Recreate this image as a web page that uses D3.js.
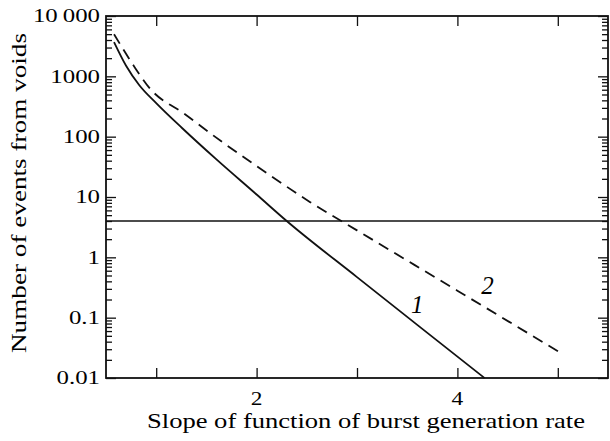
<!DOCTYPE html>
<html>
<head>
<meta charset="utf-8">
<script src="https://cdn.jsdelivr.net/npm/d3@7"></script>
<style>
  body { margin: 0; background: #fff; }
</style>
</head>
<body>
<div id="chart"></div>
<script>
// curve 1 (solid) and curve 2 (dashed)
const slopes1 = [0.58, 0.7, 0.83, 1.0, 1.26, 1.6, 2.0, 2.3, 3.0, 3.6, 4.27];
const events1 = [3700, 1500, 720, 360, 138, 42, 11, 4.0, 0.47, 0.076, 0.01];
const slopes2 = [0.58, 0.79, 0.93, 1.28, 1.66, 2.1, 2.53, 3.0, 4.0, 5.03];
const events2 = [5000, 1380, 650, 240, 81, 25, 8.3, 2.8, 0.28, 0.026];
const threshold = 4;

const xTicks = [1, 2, 3, 4, 5];
const xTickLabels = ["", "2", "", "4", ""];
const yTicks = [0.01, 0.1, 1, 10, 100, 1000, 10000];
const yTickLabels = ["0.01", "0.1", "1", "10", "100", "1000", "10\u2009000"];
const curveNames = ["1", "2"];

const font = "'Liberation Serif', 'Times New Roman', serif";
const width = 610;
const height = 441;
const margin = { left: 106, right: 2, top: 16, bottom: 63 };
const plotW = width - margin.left - margin.right;
const plotH = height - margin.top - margin.bottom;

let svg = d3
  .select("#chart")
  .append("svg")
  .attr("width", width)
  .attr("height", height);

let plot = svg
  .append("g")
  .attr("transform", `translate(${margin.left}, ${margin.top})`);

let x = d3.scaleLinear().domain([0.5, 5.5]).range([0, plotW]);
let y = d3.scaleLog().domain([0.01, 10000]).range([plotH, 0]);

// minor log ticks 2..9 in each decade
let minorTicks = [];
yTicks.slice(0, -1).forEach((d) => {
  for (let k = 2; k < 10; k++) minorTicks.push(d * k);
});

function styleAxis(g) {
  g.select(".domain").remove();
  g.selectAll("line").attr("stroke", "#111").attr("stroke-width", 1.3);
}

plot.append("g").call(d3.axisLeft(y).tickValues(yTicks).tickSize(-10).tickFormat("")).call(styleAxis);
plot.append("g").call(d3.axisLeft(y).tickValues(minorTicks).tickSize(-6).tickFormat("")).call(styleAxis);
plot
  .append("g")
  .attr("transform", `translate(${plotW}, 0)`)
  .call(d3.axisRight(y).tickValues(yTicks).tickSize(-10).tickFormat(""))
  .call(styleAxis);
plot
  .append("g")
  .attr("transform", `translate(${plotW}, 0)`)
  .call(d3.axisRight(y).tickValues(minorTicks).tickSize(-6).tickFormat(""))
  .call(styleAxis);
plot
  .append("g")
  .attr("transform", `translate(0, ${plotH})`)
  .call(d3.axisBottom(x).tickValues(xTicks).tickSize(-10).tickFormat(""))
  .call(styleAxis);
plot.append("g").call(d3.axisTop(x).tickValues(xTicks).tickSize(-10).tickFormat("")).call(styleAxis);

plot
  .append("rect")
  .attr("width", plotW)
  .attr("height", plotH)
  .attr("fill", "none")
  .attr("stroke", "#111")
  .attr("stroke-width", 1.8);

// threshold line
plot
  .append("line")
  .attr("x1", 0)
  .attr("x2", plotW)
  .attr("y1", y(threshold))
  .attr("y2", y(threshold))
  .attr("stroke", "#111")
  .attr("stroke-width", 1.4);

const line = d3
  .line()
  .x((d) => x(d[0]))
  .y((d) => y(d[1]))
  .curve(d3.curveMonotoneX);

plot
  .append("path")
  .attr("d", line(d3.zip(slopes1, events1)))
  .attr("fill", "none")
  .attr("stroke", "#111")
  .attr("stroke-width", 1.8);

plot
  .append("path")
  .attr("d", line(d3.zip(slopes2, events2)))
  .attr("fill", "none")
  .attr("stroke", "#111")
  .attr("stroke-width", 1.8)
  .attr("stroke-dasharray", "11,7");

// curve numbers
const labelAt = [[3.6, 0.12], [4.3, 0.25]];
plot
  .selectAll(".curveName")
  .data(curveNames)
  .join("text")
  .attr("class", "curveName")
  .attr("x", (d, i) => x(labelAt[i][0]))
  .attr("y", (d, i) => y(labelAt[i][1]))
  .attr("text-anchor", "middle")
  .style("font-family", font)
  .style("font-style", "italic")
  .style("font-size", "25px")
  .text((d) => d);

// tick labels
plot
  .selectAll(".ylab")
  .data(yTicks)
  .join("text")
  .attr("class", "ylab")
  .attr("transform", (d) => `translate(-6, ${y(d)}) scale(1.38, 1)`)
  .attr("dy", "0.35em")
  .attr("text-anchor", "end")
  .style("font-family", font)
  .style("font-size", "18px")
  .text((d, i) => yTickLabels[i]);

plot
  .selectAll(".xlab")
  .data(xTicks)
  .join("text")
  .attr("class", "xlab")
  .attr("transform", (d) => `translate(${x(d)}, ${plotH + 27}) scale(1.3, 1)`)
  .attr("text-anchor", "middle")
  .style("font-family", font)
  .style("font-size", "18px")
  .text((d, i) => xTickLabels[i]);

// axis titles
svg
  .append("text")
  .attr("x", 366)
  .attr("y", 428)
  .attr("text-anchor", "middle")
  .attr("textLength", 438)
  .attr("lengthAdjust", "spacingAndGlyphs")
  .style("font-family", font)
  .style("font-size", "21px")
  .text("Slope of function of burst generation rate");

svg
  .append("text")
  .attr("transform", "translate(26, 193) rotate(-90)")
  .attr("text-anchor", "middle")
  .attr("textLength", 320)
  .attr("lengthAdjust", "spacingAndGlyphs")
  .style("font-family", font)
  .style("font-size", "21px")
  .text("Number of events from voids");
</script>
</body>
</html>
